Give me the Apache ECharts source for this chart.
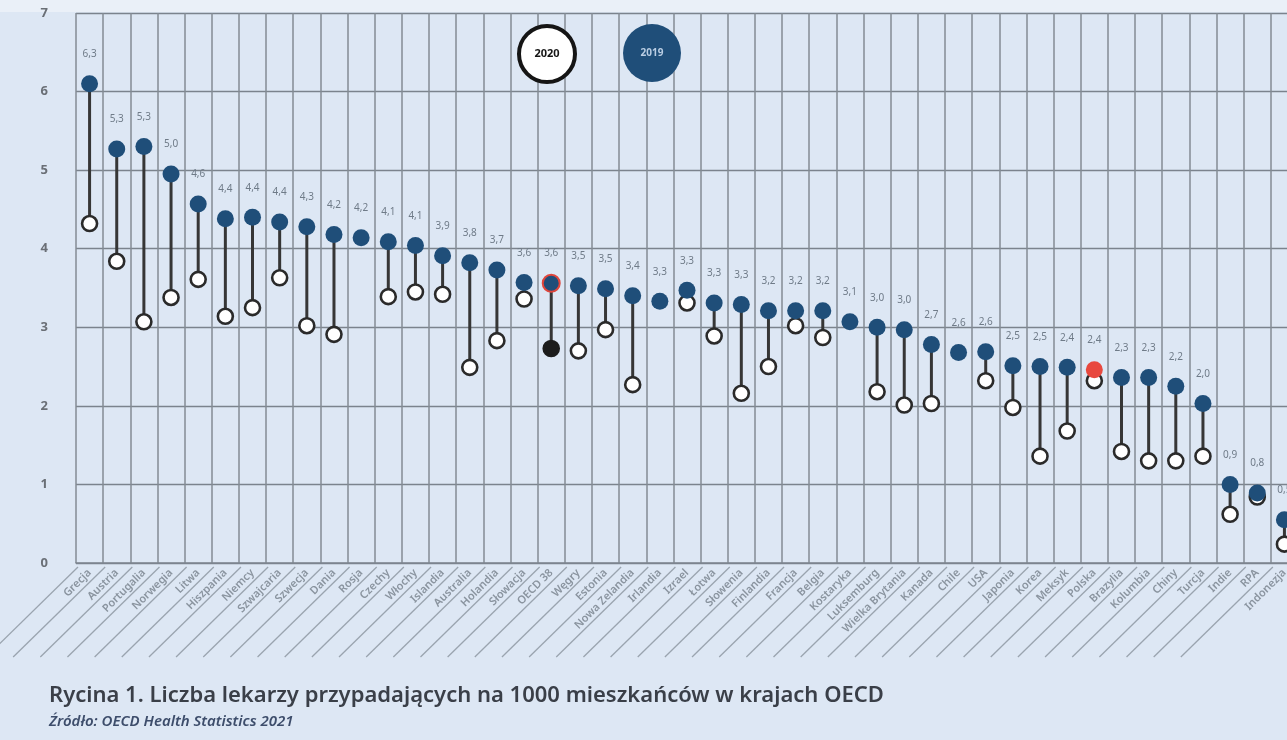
<!DOCTYPE html>
<html>
<head>
<meta charset="utf-8">
<script src="https://cdn.jsdelivr.net/npm/echarts@6/dist/echarts.min.js"></script>
<style>
  html, body { margin: 0; padding: 0; background: #dde7f4; overflow: hidden; width: 1287px; height: 740px; }
  #chart { width: 1310px; height: 740px; }
</style>
</head>
<body>
<div id="chart"></div>
<script>
// ---- data ----
var categories = ['Grecja','Austria','Portugalia','Norwegia','Litwa','Hiszpania','Niemcy','Szwajcaria','Szwecja','Dania',
  'Rosja','Czechy','Włochy','Islandia','Australia','Holandia','Słowacja','OECD 38','Węgry','Estonia',
  'Nowa Zelandia','Irlandia','Izrael','Łotwa','Słowenia','Finlandia','Francja','Belgia','Kostaryka','Luksemburg',
  'Wielka Brytania','Kanada','Chile','USA','Japonia','Korea','Meksyk','Polska','Brazylia','Kolumbia',
  'Chiny','Turcja','Indie','RPA','Indonezja'];
var values2019 = [6.1, 5.27, 5.3, 4.95, 4.57, 4.38, 4.4, 4.34, 4.28, 4.18,
  4.14, 4.09, 4.04, 3.91, 3.82, 3.73, 3.57, 3.56, 3.53, 3.49,
  3.4, 3.33, 3.47, 3.31, 3.29, 3.21, 3.21, 3.21, 3.07, 3.0,
  2.97, 2.78, 2.68, 2.69, 2.51, 2.5, 2.49, 2.46, 2.36, 2.36,
  2.25, 2.03, 1.0, 0.89, 0.55];
var values2020 = [4.32, 3.84, 3.07, 3.38, 3.61, 3.14, 3.25, 3.63, 3.02, 2.91,
  null, 3.39, 3.45, 3.42, 2.49, 2.83, 3.36, 2.73, 2.70, 2.97,
  2.27, null, 3.31, 2.89, 2.16, 2.50, 3.02, 2.87, null, 2.18,
  2.01, 2.03, null, 2.32, 1.98, 1.36, 1.68, 2.32, 1.42, 1.30,
  1.30, 1.36, 0.62, 0.84, 0.24];
var labels2019 = ['6,3','5,3','5,3','5,0','4,6','4,4','4,4','4,4','4,3','4,2',
  '4,2','4,1','4,1','3,9','3,8','3,7','3,6','3,6','3,5','3,5',
  '3,4','3,3','3,3','3,3','3,3','3,2','3,2','3,2','3,1','3,0',
  '3,0','2,7','2,6','2,6','2,5','2,5','2,4','2,4','2,3','2,3',
  '2,2','2,0','0,9','0,8','0,5'];
var yTicks = [0, 1, 2, 3, 4, 5, 6, 7];
var seriesNames = ['2020', '2019'];
var titleText = 'Rycina 1. Liczba lekarzy przypadających na 1000 mieszkańców w krajach OECD';
var sourceText = 'Źródło: OECD Health Statistics 2021';

// ---- build ----
var oecdIdx = categories.indexOf('OECD 38');
var polIdx = categories.indexOf('Polska');
var blue = '#1f4e79';

var connData = [];
categories.forEach(function (c, i) {
  if (values2020[i] != null) connData.push([i, values2019[i], values2020[i]]);
});
var leaderData = categories.map(function (c, i) { return [i, 0]; });

var d2020 = values2020.map(function (v, i) {
  if (v == null) return '-';
  if (i === oecdIdx) return { value: v, itemStyle: { color: '#1c1c1c', borderColor: '#1c1c1c' } };
  return v;
});
var d2019 = values2019.map(function (v, i) {
  if (i === oecdIdx) return { value: v, itemStyle: { color: blue, borderColor: '#e0463c', borderWidth: 2 } };
  if (i === polIdx) return { value: v, itemStyle: { color: '#e8483e' } };
  return v;
});

var chart = echarts.init(document.getElementById('chart'), null, { renderer: 'canvas' });
var font = 'Noto Sans';
chart.setOption({
  backgroundColor: '#dde7f4',
  animation: false,
  textStyle: { fontFamily: font },
  title: [
    { text: titleText, left: 44, top: 680,
      textStyle: { fontFamily: font, fontSize: 22, fontWeight: 600, color: '#3a3f48' } },
    { text: sourceText, left: 44, top: 709,
      textStyle: { fontFamily: font, fontSize: 15, fontStyle: 'italic', fontWeight: 600, color: '#3d4d6b' } }
  ],
  grid: { left: 76, top: 13, width: 1222, height: 550, containLabel: false },
  xAxis: {
    type: 'category',
    data: categories,
    boundaryGap: true,
    axisLine: { show: true, lineStyle: { color: '#7d8590', width: 1.5 } },
    axisTick: { show: false },
    splitLine: { show: true, interval: 0, lineStyle: { color: '#838b95', width: 1.5 } },
    axisLabel: { interval: 0, rotate: 45, margin: 8, fontSize: 11, fontWeight: 600, color: '#8a949f', fontFamily: font }
  },
  yAxis: {
    type: 'value',
    min: yTicks[0], max: yTicks[yTicks.length - 1], interval: 1,
    axisLine: { show: false },
    axisTick: { show: false },
    splitLine: { show: true, lineStyle: { color: '#7b838d', width: 1.4 } },
    axisLabel: { margin: 28, fontSize: 13, fontWeight: 700, color: '#6a6f76', fontFamily: font }
  },
  graphic: [
    { type: 'rect', left: 0, top: 0, shape: { width: 1310, height: 12 }, style: { fill: '#eaf0f8' }, z: -1 },
    { type: 'circle', shape: { cx: 547, cy: 54, r: 28 }, style: { fill: '#ffffff', stroke: '#151515', lineWidth: 4 }, z: 50 },
    { type: 'text', x: 547, y: 54, style: { text: seriesNames[0], fill: '#151515', font: 'bold 11px "Noto Sans"', align: 'center', verticalAlign: 'middle' }, z: 51 },
    { type: 'circle', shape: { cx: 652, cy: 53, r: 29 }, style: { fill: blue }, z: 50 },
    { type: 'text', x: 652, y: 53, style: { text: seriesNames[1], fill: '#b9cde3', font: 'bold 10px "Noto Sans"', align: 'center', verticalAlign: 'middle' }, z: 51 }
  ],
  series: [
    {
      type: 'custom', name: 'leaders', silent: true, clip: false, z: 1,
      data: leaderData,
      encode: { x: 0, y: 1 },
      renderItem: function (params, api) {
        var p = api.coord([api.value(0), api.value(1)]);
        var w = api.size([1, 0])[0];
        var xb = p[0] - w / 2;
        return { type: 'line', shape: { x1: xb + 2, y1: p[1] + 4, x2: xb - 90, y2: p[1] + 94 },
          style: { stroke: '#9aa4af', lineWidth: 1.3 } };
      }
    },
    {
      type: 'custom', name: 'connectors', silent: true, z: 3,
      data: connData,
      encode: { x: 0, y: [1, 2] },
      renderItem: function (params, api) {
        var i = api.value(0);
        var p1 = api.coord([i, api.value(1)]);
        var p2 = api.coord([i, api.value(2)]);
        return { type: 'line', shape: { x1: p1[0], y1: p1[1], x2: p2[0], y2: p2[1] },
          style: { stroke: '#363636', lineWidth: 3 } };
      }
    },
    {
      type: 'scatter', name: seriesNames[0], z: 4,
      data: d2020, symbol: 'circle', symbolSize: 15,
      itemStyle: { color: '#ffffff', borderColor: '#2a2a2a', borderWidth: 2.6, opacity: 1 }
    },
    {
      type: 'scatter', name: seriesNames[1], z: 5,
      data: d2019, symbol: 'circle', symbolSize: 17,
      itemStyle: { color: blue, opacity: 1 },
      label: {
        show: true, position: 'top', distance: 16,
        fontSize: 10, color: '#6f7b88', fontFamily: font,
        formatter: function (p) { return labels2019[p.dataIndex]; }
      }
    }
  ]
});
</script>
</body>
</html>
